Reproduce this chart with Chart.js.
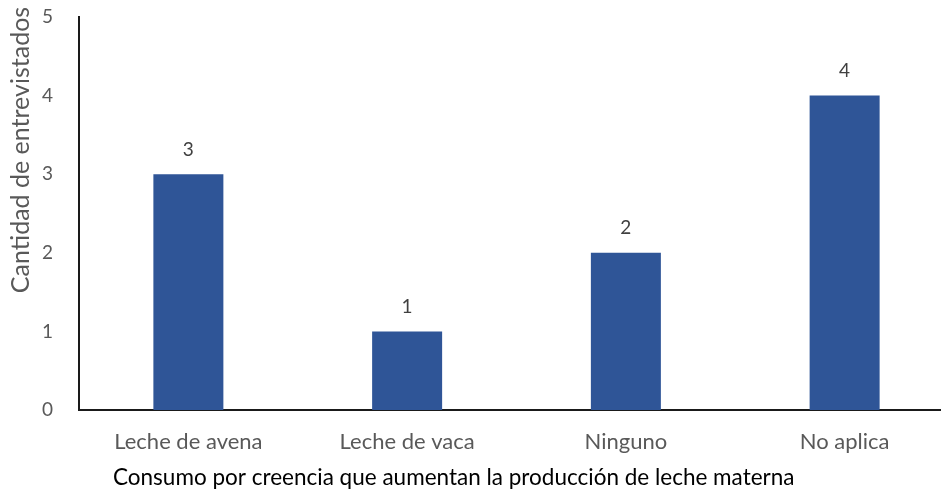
<!DOCTYPE html>
<html>
<head>
<meta charset="utf-8">
<script src="https://cdn.jsdelivr.net/npm/chart.js@4/dist/chart.umd.min.js"></script>
<style>
  html, body { margin: 0; padding: 0; background: #fff; overflow: hidden; }
  #wrap { position: relative; width: 954px; height: 493px; }
</style>
</head>
<body>
<div id="wrap"><canvas id="c"></canvas></div>
<script>
const categories = ["Leche de avena", "Leche de vaca", "Ninguno", "No aplica"];
const values = [3, 1, 2, 4];
const yTicks = [0, 1, 2, 3, 4, 5];
const yTitle = "Cantidad de entrevistados";
const xTitle = "Consumo por creencia que aumentan la producción de leche materna";

const FONT = "Lato, 'Open Sans', sans-serif";

const labelsPlugin = {
  id: 'valueLabels',
  afterDatasetsDraw(chart) {
    const ctx = chart.ctx;
    const meta = chart.getDatasetMeta(0);
    ctx.save();
    ctx.fillStyle = '#404040';
    ctx.font = '19px ' + FONT;
    ctx.textAlign = 'center';
    ctx.textBaseline = 'bottom';
    meta.data.forEach((bar, i) => {
      ctx.fillText(String(values[i]), bar.x, bar.y - 15);
    });
    ctx.restore();
  }
};

const titlesPlugin = {
  id: 'titles',
  afterDraw(chart) {
    const ctx = chart.ctx;
    ctx.save();
    ctx.fillStyle = '#595959';
    ctx.font = '25px ' + FONT;
    ctx.textAlign = 'center';
    ctx.textBaseline = 'middle';
    ctx.translate(21, 150);
    ctx.rotate(-Math.PI / 2);
    ctx.fillText(yTitle, 0, 0);
    ctx.restore();
    ctx.save();
    ctx.fillStyle = '#000000';
    ctx.font = '22.5px ' + FONT;
    ctx.textAlign = 'left';
    ctx.textBaseline = 'middle';
    ctx.fillText(xTitle, 113, 478);
    ctx.restore();
  }
};

new Chart(document.getElementById('c'), {
  type: 'bar',
  data: {
    labels: categories,
    datasets: [{
      data: values,
      backgroundColor: '#2F5597',
      borderWidth: 0,
      barPercentage: 0.32,
      categoryPercentage: 1.0
    }]
  },
  options: {
    responsive: true,
    maintainAspectRatio: false,
    animation: false,
    layout: { padding: { top: 17, right: 0, left: 0, bottom: 0 } },
    plugins: { legend: { display: false }, tooltip: { enabled: false } },
    scales: {
      x: {
        grid: { display: false, drawTicks: false },
        border: { display: true, color: '#1a1a1a', width: 2 },
        ticks: { color: '#595959', font: { family: FONT, size: 22 }, padding: 19, maxRotation: 0 },
        afterFit: s => { s.height = 83; s.paddingLeft = 0; s.paddingRight = 0; }
      },
      y: {
        min: 0, max: 5,
        afterBuildTicks: s => { s.ticks = yTicks.map(v => ({ value: v })); },
        grid: { display: false, drawTicks: false },
        border: { display: true, color: '#1a1a1a', width: 2 },
        ticks: { color: '#595959', font: { family: FONT, size: 19 }, padding: 26 },
        afterFit: s => { s.width = 79; s.paddingTop = 0; s.paddingBottom = 0; }
      }
    }
  },
  plugins: [labelsPlugin, titlesPlugin]
});
</script>
</body>
</html>
